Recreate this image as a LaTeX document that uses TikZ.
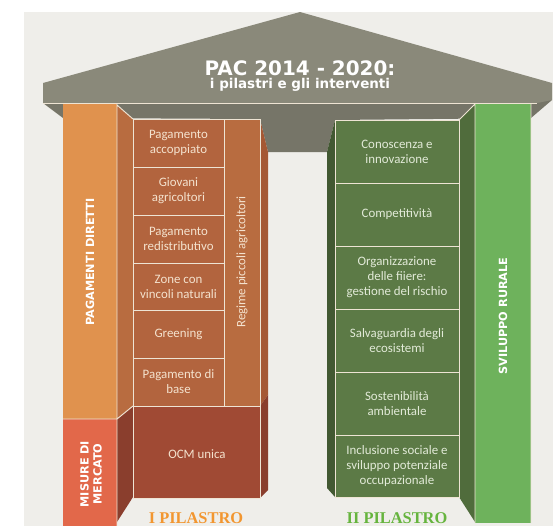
\documentclass[tikz,border=0pt]{standalone}
\usepackage{fontspec}
\setmainfont{Carlito}
\newfontfamily\titolofont{DejaVu Sans}
\newfontfamily\pilastrofont{Liberation Serif}
\usetikzlibrary{positioning}
\definecolor{sfondo}{RGB}{239,238,234}
\definecolor{tetto}{RGB}{138,137,122}
\definecolor{sottotetto}{RGB}{118,117,104}
\definecolor{linea}{RGB}{238,228,212}
\definecolor{arancio}{RGB}{224,146,78}
\definecolor{mercato}{RGB}{226,104,74}
\definecolor{mattone}{RGB}{178,100,62}
\definecolor{fiancoarancio}{RGB}{184,108,64}
\definecolor{fiancointerno}{RGB}{165,88,52}
\definecolor{fiancoscuro}{RGB}{138,62,45}
\definecolor{ocm}{RGB}{160,74,52}
\definecolor{verdescuro}{RGB}{92,122,70}
\definecolor{fiancoverde}{RGB}{80,108,60}
\definecolor{ombraverde}{RGB}{66,88,50}
\definecolor{verdechiaro}{RGB}{110,178,92}
\definecolor{testochiaro}{RGB}{244,226,206}
\definecolor{testoverde}{RGB}{226,234,216}
\definecolor{titoloarancio}{RGB}{242,150,48}
\definecolor{titoloverde}{RGB}{102,180,62}

\begin{document}
\begin{tikzpicture}[x=0.03cm, y=-0.03cm,
  voce/.style={font=\fontsize{11}{12.8}\selectfont, align=center, text=testochiaro},
  vocev/.style={voce, text=testoverde},
  etichetta/.style={font=\titolofont\bfseries\fontsize{9.6}{11}\selectfont,
    text=white, rotate=90, align=center},
  bordo/.style={draw=linea, line width=0.8pt},
  pilastro/.style={font=\pilastrofont\bfseries\fontsize{14}{14}\selectfont, anchor=base}
]
\useasboundingbox (0,0) rectangle (553,526);
\fill[sfondo] (24,12) rectangle (553,526);

% tetto
\fill[sottotetto] (43,103) -- (552,100) -- (531,118) -- (335,120) -- (327,152)
  -- (268,152) -- (260,119) -- (63,118) -- cycle;
\fill[tetto] (43,83) -- (300,12) -- (552,83) -- (552,100) -- (537,103) -- (43,103) -- cycle;
\draw[bordo] (43,103) -- (537,103);
\node[font=\titolofont\bfseries\fontsize{17}{17}\selectfont, text=white, anchor=base]
  (titolo) at (300,75) {PAC 2014 - 2020:};
\node[font=\titolofont\bfseries\fontsize{11.5}{12}\selectfont, text=white, anchor=base]
  (sottotitolo) at (300,88.5) {i pilastri e gli interventi};

% I pilastro
\fill[fiancoarancio] (117,105) -- (133,119) -- (133,406) -- (117,419) -- cycle;
\fill[fiancoscuro] (117,419) -- (133,406) -- (133,497) -- (117,522) -- cycle;
\fill[arancio] (63,104) rectangle (117,419);
\fill[mercato] (63,419) rectangle (117,530);
\fill[fiancointerno] (260,119) -- (268,152) -- (268,395) -- (260,406) -- cycle;
\fill[fiancoscuro] (260,406) -- (268,395) -- (268,490) -- (260,498) -- cycle;
\draw[bordo] (117,104) -- (117,530) (63,419) -- (117,419) -- (133,406)
  (117,105) -- (133,119);
\foreach \su/\giu/\testo [count=\i] in {119/167/{Pagamento\\accoppiato},
    167/215/{Giovani\\agricoltori}, 215/263/{Pagamento\\redistributivo},
    263/310/{Zone con\\vincoli naturali}, 310/358/{Greening},
    358/406/{Pagamento di\\base}} {
  \draw[bordo, fill=mattone] (133,\su) rectangle (224,\giu);
  \node[voce] (sx\i) at (178.5,{(\su+\giu)/2}) {\testo};
}
\draw[bordo, fill=fiancoarancio] (224,119) rectangle (260,406);
\node[voce, rotate=90] (regime) at (242,262) {Regime piccoli agricoltori};
\draw[bordo, fill=ocm] (133,406) rectangle (260,498);
\node[voce] (ocmunica) at (197,454) {OCM unica};
\node[etichetta] (diretti) at (90,262) {PAGAMENTI DIRETTI};
\node[etichetta] (misure) at (91,474) {MISURE DI\\MERCATO};
\node[pilastro, text=titoloarancio] (primo) at (196,523.5) {I PILASTRO};

% II pilastro
\fill[ombraverde] (335,120) -- (327,152) -- (327,488) -- (335,497) -- cycle;
\fill[fiancoverde] (459,120) -- (475,104) -- (475,522) -- (459,497) -- cycle;
\fill[verdechiaro] (475,104) rectangle (531,523);
\draw[bordo] (459,120) -- (475,104) -- (475,523) (531,104) -- (531,523);
\foreach \su/\giu/\testo [count=\i] in {120/183/{Conoscenza e\\innovazione},
    183/246/{Competitività}, 246/309/{Organizzazione\\delle fiiere:\\gestione del rischio},
    309/372/{Salvaguardia degli\\ecosistemi}, 372/435/{Sostenibilità\\ambientale},
    435/497/{Inclusione sociale e\\sviluppo potenziale\\occupazionale}} {
  \draw[bordo, fill=verdescuro] (335,\su) rectangle (459,\giu);
  \node[vocev] (dx\i) at (397,{(\su+\giu)/2}) {\testo};
}
\node[etichetta] (rurale) at (503,316) {SVILUPPO RURALE};
\node[pilastro, text=titoloverde] (secondo) at (397,523.5) {II PILASTRO};
\end{tikzpicture}
\end{document}
